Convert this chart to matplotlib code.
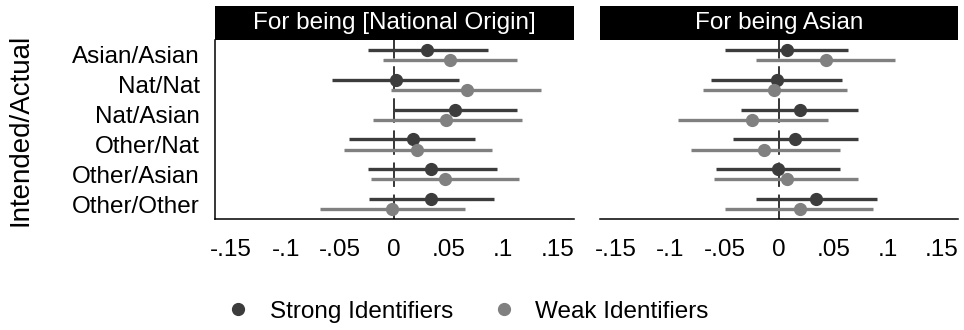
#!/usr/bin/env python3
"""Coefficient plot: discrimination effects by intended/actual identity."""

import matplotlib

matplotlib.use("Agg")
import matplotlib.pyplot as plt
import numpy as np

plt.rcParams["font.family"] = ["Liberation Sans", "DejaVu Sans"]

CATEGORIES = ["Asian/Asian", "Nat/Nat", "Nat/Asian", "Other/Nat",
              "Other/Asian", "Other/Other"]
PANELS = ["For being [National Origin]", "For being Asian"]
TICKS = [-0.15, -0.1, -0.05, 0, 0.05, 0.1, 0.15]
TICK_LABELS = ["-.15", "-.1", "-.05", "0", ".05", ".1", ".15"]

# panel 1: For being [National Origin]
nat_strong = [0.0305, 0.0014, 0.0558, 0.0172, 0.0341, 0.0341]
nat_strong_lo = [-0.0246, -0.057, -0.0011, -0.0417, -0.0246, -0.0231]
nat_strong_hi = [0.0867, 0.060, 0.113, 0.0745, 0.0947, 0.0916]
nat_weak = [0.0509, 0.0668, 0.0479, 0.0213, 0.0463, -0.0017]
nat_weak_lo = [-0.0108, -0.0026, -0.020, -0.0463, -0.0218, -0.0683]
nat_weak_hi = [0.113, 0.135, 0.1176, 0.0897, 0.1151, 0.0653]

# panel 2: For being Asian
asn_strong = [0.007, -0.002, 0.0191, 0.0146, -0.0012, 0.0344]
asn_strong_lo = [-0.050, -0.0623, -0.0346, -0.0426, -0.0577, -0.021]
asn_strong_hi = [0.064, 0.0577, 0.0729, 0.0729, 0.0562, 0.090]
asn_weak = [0.0435, -0.0043, -0.0249, -0.0134, 0.007, 0.0191]
asn_weak_lo = [-0.021, -0.070, -0.0933, -0.0811, -0.0593, -0.050]
asn_weak_hi = [0.1067, 0.0623, 0.045, 0.0562, 0.0729, 0.0869]

STRONG_COLOR = "#3c3c3c"
WEAK_COLOR = "#808080"
FS = 17.5


def draw_series(ax, ys, est, lo, hi, color, label):
  ax.hlines(ys, lo, hi, color=color, linewidth=2.4, zorder=2)
  ax.plot(est, ys, "o", color=color, markersize=8.5, linestyle="none",
          zorder=3, label=label)


def draw_panel(ax, hax, title, strong, slo, shi, weak, wlo, whi, first):
  pos = np.arange(len(CATEGORIES))
  ax.axvline(0, color="black", linewidth=1.1, linestyle=(0, (16, 5)), zorder=1)
  draw_series(ax, pos - 0.17, strong, slo, shi, STRONG_COLOR,
              "Strong Identifiers")
  draw_series(ax, pos + 0.17, weak, wlo, whi, WEAK_COLOR, "Weak Identifiers")
  ax.set_xlim(-0.165, 0.165)
  ax.set_ylim(len(CATEGORIES) - 0.5, -0.5)
  ax.set_xticks(TICKS)
  ax.set_xticklabels(TICK_LABELS)
  ax.tick_params(axis="x", length=0, pad=14, labelsize=FS)
  for side in ("top", "right"):
    ax.spines[side].set_visible(False)
  ax.spines["bottom"].set_linewidth(1.1)
  if first:
    ax.set_yticks(pos)
    ax.set_yticklabels(CATEGORIES)
    ax.tick_params(axis="y", length=0, pad=11, labelsize=FS)
    ax.spines["left"].set_linewidth(1.1)
    ax.set_ylabel("Intended/Actual", fontsize=20, labelpad=28)
  else:
    ax.set_yticks([])
    ax.spines["left"].set_visible(False)

  hax.set_facecolor("black")
  hax.set_xticks([])
  hax.set_yticks([])
  for spine in hax.spines.values():
    spine.set_visible(False)
  hax.text(0.5, 0.5, title, color="white", fontsize=FS, ha="center",
           va="center", transform=hax.transAxes)


def main():
  fig = plt.figure(figsize=(9.64, 3.30), dpi=100)
  bottom, top = 0.336, 0.879
  lefts = [0.223, 0.622]
  width = 0.372
  data = [
      (nat_strong, nat_strong_lo, nat_strong_hi,
       nat_weak, nat_weak_lo, nat_weak_hi),
      (asn_strong, asn_strong_lo, asn_strong_hi,
       asn_weak, asn_weak_lo, asn_weak_hi),
  ]
  axes = []
  for idx, (left, title, vals) in enumerate(zip(lefts, PANELS, data)):
    ax = fig.add_axes([left, bottom, width, top - bottom])
    hax = fig.add_axes([left, top, width, 34 / 330])
    draw_panel(ax, hax, title, *vals, first=(idx == 0))
    axes.append(ax)

  handles, labels = axes[0].get_legend_handles_labels()
  fig.legend(handles, labels, loc="center", bbox_to_anchor=(0.486, 0.055),
             ncol=2, frameon=False, fontsize=FS, handlelength=0.8,
             handletextpad=0.9, columnspacing=1.7)
  fig.savefig("out.png", dpi=100)
  plt.close(fig)


if __name__ == "__main__":
  main()
